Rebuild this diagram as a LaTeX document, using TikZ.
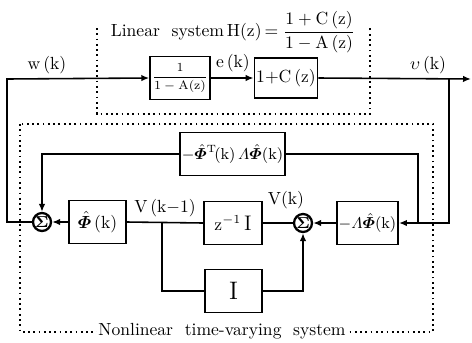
\documentclass[tikz,border=0pt]{standalone}
\usepackage{amsmath,bm}
\usetikzlibrary{arrows.meta, positioning}
\tikzset{
  every picture/.style={line width=0.9pt},
  box/.style={draw, line width=1pt, minimum width=#1, minimum height=0.86cm, inner sep=1pt, align=center},
  box/.default=1.14cm,
  sumnode/.style={circle, draw, line width=1.3pt, minimum size=0.36cm, inner sep=0pt, font=\small},
  arrow/.style={-{Latex[length=1.6mm, width=1.3mm]}},
  wire/.style={-},
  frame/.style={dotted, line width=1pt},
  title/.style={fill=white, inner sep=1pt},
}

\begin{document}
\begin{tikzpicture}[x=0.02cm, y=-0.02cm]
  \useasboundingbox (0,0) rectangle (472,342);
  % dotted frames
  \draw[frame] (97,28) |- (370,114) -- (370,28);
  \draw[frame] (20,124) rectangle (433,332);
  \node[title] (lin) at (233,32) {Linear\ \ system\,H(z)$\,=\dfrac{1+\mathrm{C}\,(\mathrm{z})}{1-\mathrm{A}\,(\mathrm{z})}$};
  \node[title] (nonlin) at (222,331) {Nonlinear\ \ time-varying\ \ system};
  % linear part
  \node[box=1.12cm] (inv) at (180,78) {\scriptsize$\dfrac{1}{1-\mathrm{A}(\mathrm{z})}$};
  \node[box=1.16cm, minimum height=0.8cm] (cz) at (286,78) {$1{+}\mathrm{C}\,(\mathrm{z})$};
  \coordinate (lc) at (7,79);
  \coordinate (out) at (471,79);
  \coordinate (tap) at (449,79);
  % nonlinear part
  \node[sumnode] (s1) at (42,222) {$\mathbf{\Sigma}$};
  \node[box] (phi) at (97.5,222) {$\hat{\bm{\varPhi}}\,(\mathrm{k})$};
  \node[box=1.16cm] (zinv) at (233,223) {$\mathrm{z}^{-1}\,\text{\large I}$};
  \node[sumnode] (s2) at (303,223) {$\mathbf{\Sigma}$};
  \node[box] (lphi) at (367.5,223) {\small$-\varLambda\hat{\bm{\varPhi}}(\mathrm{k})$};
  \node[box] (ibox) at (233.5,291) {\Large I};
  \node[box=1.9cm] (fb) at (232.5,154) {\small$-\hat{\bm{\varPhi}}^{\mathrm{T}}\!(\mathrm{k})\,\varLambda\hat{\bm{\varPhi}}(\mathrm{k})$};
  \coordinate (br) at (162,222);
  \coordinate (jn) at (418,223);
  % labels
  \node (wk) at (47,65) {w\,(k)};
  \node (ek) at (233,63) {e\,(k)};
  \node (vk) at (428,65) {$\upsilon\,(\mathrm{k})$};
  \node (vkm) at (165,208) {V\,(k$-$1)};
  \node (vkk) at (286,200) {V(k)};
  % connectors
  \draw[arrow] (s1.west) -| (lc) -- (inv.west);
  \draw[arrow] (inv.east) -- (cz.west);
  \draw[arrow] (cz.east) -- (out);
  \draw[arrow] (tap) |- (lphi.east);
  \draw[wire] (jn) |- (fb.east);
  \draw[arrow] (fb.west) -| (s1.north);
  \draw[arrow] (lphi.west) -- (s2.east);
  \draw[wire] (s2.west) -- (zinv.east);
  \draw[wire] (zinv.west) -- (phi.east);
  \draw[arrow] (phi.west) -- (s1.east);
  \draw[wire] (br) |- (ibox.west);
  \draw[arrow] (ibox.east) -| (s2.south);
\end{tikzpicture}
\end{document}
